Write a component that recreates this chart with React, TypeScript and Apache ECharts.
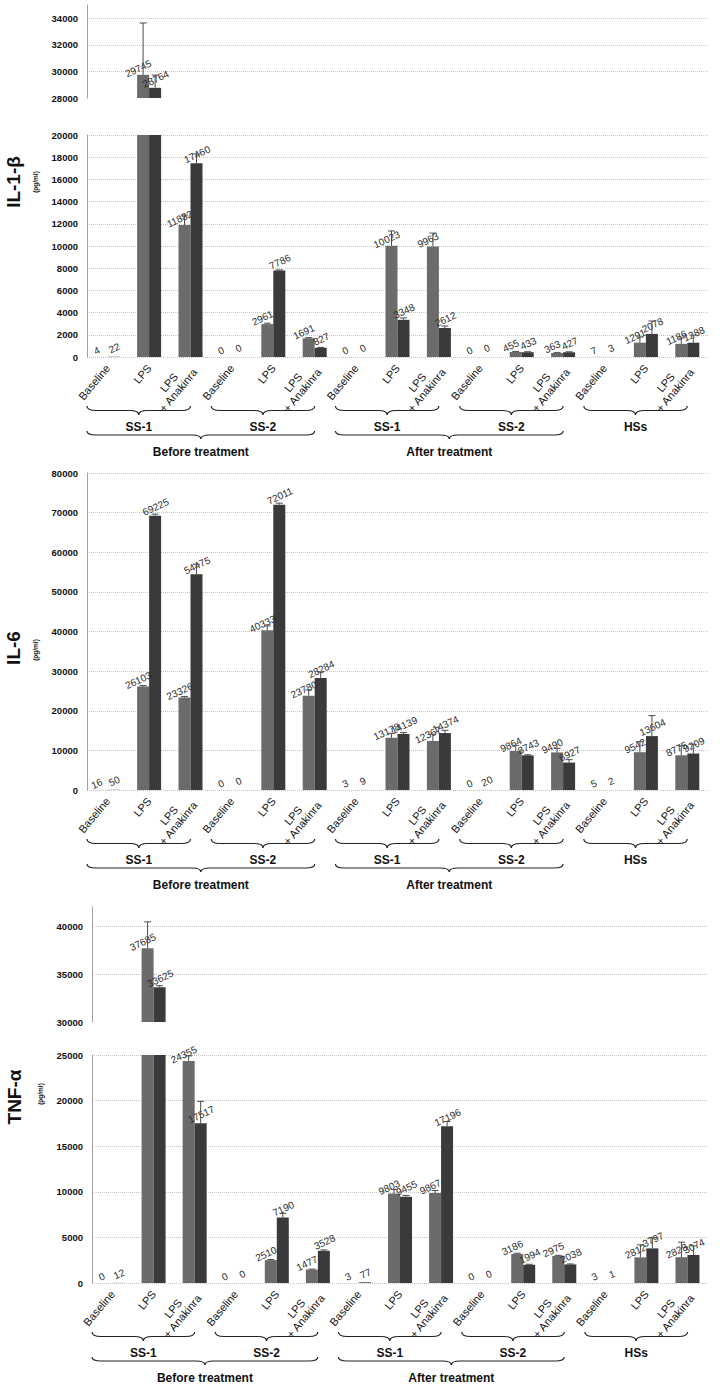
import React, { useEffect, useRef } from 'react';
import * as echarts from 'echarts';

// ---------- data ----------
const groupKeys = ['Before SS-1', 'Before SS-2', 'After SS-1', 'After SS-2', 'HSs'];
const groupLabels = ['SS-1', 'SS-2', 'SS-1', 'SS-2', 'HSs'];
const phaseLabels = ['Before treatment', 'After treatment'];
const conditions = ['Baseline', 'LPS', 'LPS\n+ Anakinra'];

// IL-1β (pg/ml)
const il1bLight = [4, 29745, 11882, 0, 2961, 1691, 0, 10023, 9963, 0, 455, 363, 7, 1291, 1186];
const il1bDark = [22, 28764, 17460, 0, 7786, 827, 0, 3348, 2612, 0, 433, 427, 3, 2078, 1288];
const il1bLightErr = [0, 3900, 900, 0, 80, 50, 0, 1330, 1200, 0, 50, 30, 0, 510, 525];
const il1bDarkErr = [0, 960, 830, 0, 60, 40, 0, 170, 180, 0, 40, 40, 0, 1165, 690];

// IL-6 (pg/ml)
const il6Light = [16, 26103, 23326, 0, 40333, 23780, 3, 13178, 12367, 0, 9864, 9490, 5, 9542, 8775];
const il6Dark = [50, 69225, 54475, 0, 72011, 28284, 9, 14139, 14374, 20, 8743, 6927, 2, 13604, 9209];
const il6LightErr = [0, 250, 250, 0, 1080, 1470, 0, 1130, 1690, 0, 1415, 1030, 0, 2660, 2340];
const il6DarkErr = [0, 400, 2500, 0, 380, 1510, 0, 340, 690, 0, 150, 730, 0, 5170, 2320];

// TNF-α (pg/ml)
const tnfLight = [0, 37685, 24355, 0, 2510, 1477, 3, 9803, 9867, 0, 3186, 2975, 3, 2812, 2828];
const tnfDark = [12, 33625, 17517, 0, 7190, 3528, 77, 9455, 17196, 0, 1994, 2038, 1, 3797, 3074];
const tnfLightErr = [0, 2760, 550, 0, 60, 50, 0, 450, 280, 0, 80, 60, 0, 1370, 1645];
const tnfDarkErr = [0, 160, 2400, 0, 450, 100, 0, 150, 510, 0, 60, 50, 0, 1185, 1000];

// axis scales
const il1bTopAxis = { min: 28000, max: 35000, interval: 2000 };
const il1bBottomAxis = { min: 0, max: 20000, interval: 2000 };
const il6Axis = { min: 0, max: 80000, interval: 10000 };
const tnfTopAxis = { min: 30000, max: 42000, interval: 5000 };
const tnfBottomAxis = { min: 0, max: 25000, interval: 5000 };

const categories = groupKeys.flatMap((g) => conditions.map((c) => g + '|' + c));

// ---------- style / layout ----------
const FONT = '"Liberation Sans", Arial, sans-serif';
const NARROW = '"Liberation Sans Narrow", "Liberation Sans", Arial, sans-serif';
const LIGHT = '#6b6b6b';
const DARK = '#3a3a3a';
const LABEL_COLOR = '#2a2a2a';
const W = 720;
const H = 1392;
const BAR_W = 12;

const panels = [
  {
    title: 'IL-1-β', titleX: 13, titleY: 182, unitX: 35, unitY: 182,
    light: il1bLight, dark: il1bDark, lightErr: il1bLightErr, darkErr: il1bDarkErr,
    left: 87, right: 12,
    segs: [
      { top: 5, height: 93, axis: il1bTopAxis, isTop: true },
      { top: 135, height: 222, axis: il1bBottomAxis, isTop: false },
    ],
  },
  {
    title: 'IL-6', titleX: 13, titleY: 648, unitX: 35, unitY: 650,
    light: il6Light, dark: il6Dark, lightErr: il6LightErr, darkErr: il6DarkErr,
    left: 87, right: 12,
    segs: [{ top: 473, height: 317, axis: il6Axis, isTop: false }],
  },
  {
    title: 'TNF-α', titleX: 14, titleY: 1097, unitX: 40, unitY: 1094,
    light: tnfLight, dark: tnfDark, lightErr: tnfLightErr, darkErr: tnfDarkErr,
    left: 92, right: 12,
    segs: [
      { top: 907, height: 115, axis: tnfTopAxis, isTop: true },
      { top: 1055, height: 228, axis: tnfBottomAxis, isTop: false },
    ],
  },
];

const Brace = echarts.graphic.extendShape({
  shape: { x1: 0, x2: 0, y: 0, h: 0 },
  buildPath(ctx: any, s: any) {
    const xm = (s.x1 + s.x2) / 2;
    const r = Math.min(9, (s.x2 - s.x1) / 6);
    const ym = s.y + s.h / 2;
    ctx.moveTo(s.x1, s.y);
    ctx.quadraticCurveTo(s.x1, ym, s.x1 + r, ym);
    ctx.lineTo(xm - r, ym);
    ctx.quadraticCurveTo(xm, ym, xm, s.y + s.h);
    ctx.quadraticCurveTo(xm, ym, xm + r, ym);
    ctx.lineTo(s.x2 - r, ym);
    ctx.quadraticCurveTo(s.x2, ym, s.x2, s.y);
  },
});
echarts.graphic.registerShape('brace', Brace);

const catLabelStyle = { fontSize: 11, lineHeight: 12, color: '#111', fontFamily: FONT };

function buildOption() {
  const grid: any[] = [];
  const xAxis: any[] = [];
  const yAxis: any[] = [];
  const series: any[] = [];
  const graphic: any[] = [];

  panels.forEach((p) => {
    p.segs.forEach((seg) => {
      const gi = grid.length;
      grid.push({ left: p.left, right: p.right, top: seg.top, height: seg.height });
      const inSeg = (v: number) => (seg.isTop ? v >= seg.axis.min : v <= seg.axis.max);
      xAxis.push({
        type: 'category',
        gridIndex: gi,
        data: categories,
        axisLine: { show: false },
        axisTick: { show: false },
        axisLabel: seg.isTop
          ? { show: false }
          : {
              interval: 0,
              rotate: 50,
              margin: 9,
              ...catLabelStyle,
              formatter: (v: string) => {
                const lines = v.split('|')[1].split('\n');
                return lines.map((l) => '{c|' + l + '}').join('\n');
              },
              rich: { c: { ...catLabelStyle, align: 'center' } },
            },
      });
      yAxis.push({
        type: 'value',
        gridIndex: gi,
        min: seg.axis.min,
        max: seg.axis.max,
        interval: seg.axis.interval,
        axisLine: { show: true, lineStyle: { color: '#a0a0a0', width: 1 } },
        axisTick: { show: false },
        axisLabel: {
          fontSize: 9.5,
          fontWeight: 'bold',
          color: '#111',
          fontFamily: FONT,
          margin: 9,
          showMaxLabel: !seg.isTop,
          formatter: (v: number) => String(v),
        },
        splitLine: {
          show: true,
          showMinLine: !seg.isTop,
          showMaxLine: !seg.isTop,
          lineStyle: { color: '#c4c4c4', type: 'dotted', width: 1 },
        },
      });
      const specs: any[] = [
        [p.light, p.lightErr, -BAR_W / 2, LIGHT, -3],
        [p.dark, p.darkErr, BAR_W / 2, DARK, 3],
      ];
      specs.forEach(([vals, errs, off, color, lblDx]) => {
        series.push({
          type: 'bar',
          xAxisIndex: gi,
          yAxisIndex: gi,
          barWidth: BAR_W,
          barGap: '0%',
          clip: true,
          itemStyle: { color },
          label: {
            show: true,
            position: 'top',
            rotate: 25,
            distance: 3,
            offset: [lblDx, 0],
            fontSize: 10,
            color: LABEL_COLOR,
            fontFamily: FONT,
          },
          data: vals.map((v: number) =>
            seg.isTop
              ? inSeg(v)
                ? v
                : '-'
              : { value: v, label: { show: inSeg(v), color: LABEL_COLOR } }
          ),
          z: 2,
        });
        series.push({
          type: 'custom',
          xAxisIndex: gi,
          yAxisIndex: gi,
          clip: true,
          z: 3,
          encode: { x: 0, y: 1 },
          data: vals
            .map((v: number, i: number) => [i, v, errs[i]])
            .filter((d: number[]) => inSeg(d[1]) && d[2] > 0),
          renderItem: (params: any, api: any) => {
            const i = api.value(0);
            const v = api.value(1);
            const e = api.value(2);
            const b = api.coord([i, v]);
            const t = api.coord([i, v + e]);
            const x = b[0] + off;
            const st = { stroke: '#4a4a4a', lineWidth: 1 };
            return {
              type: 'group',
              children: [
                { type: 'line', shape: { x1: x, y1: b[1], x2: x, y2: t[1] }, style: st },
                { type: 'line', shape: { x1: x - 3.5, y1: t[1], x2: x + 3.5, y2: t[1] }, style: st },
              ],
            };
          },
        });
      });
    });

    // titles
    graphic.push({
      type: 'text',
      x: p.titleX,
      y: p.titleY,
      rotation: Math.PI / 2,
      style: {
        text: p.title,
        fontSize: 19,
        fontWeight: 'bold',
        fontFamily: NARROW,
        fill: '#111',
        align: 'center',
        verticalAlign: 'middle',
      },
    });
    graphic.push({
      type: 'text',
      x: p.unitX,
      y: p.unitY,
      rotation: Math.PI / 2,
      style: {
        text: '(pg/ml)',
        fontSize: 6.5,
        fontWeight: 'bold',
        fontFamily: FONT,
        fill: '#111',
        align: 'center',
        verticalAlign: 'middle',
      },
    });

    // braces
    const bottom = p.segs[p.segs.length - 1];
    const y0 = bottom.top + bottom.height;
    const slot = (W - p.left - p.right) / categories.length;
    groupLabels.forEach((g, k) => {
      const x1 = p.left + 3 * slot * k;
      const x2 = x1 + 2.5 * slot;
      graphic.push({
        type: 'brace',
        shape: { x1, x2, y: y0 + 49, h: 9 },
        style: { stroke: '#222', lineWidth: 1.2, fill: 'none' },
      });
      graphic.push({
        type: 'text',
        x: (x1 + x2) / 2,
        y: y0 + 70,
        style: {
          text: g,
          fontSize: 12,
          fontWeight: 'bold',
          fontFamily: FONT,
          fill: '#111',
          align: 'center',
          verticalAlign: 'middle',
        },
      });
    });
    phaseLabels.forEach((ph, k) => {
      const x1 = p.left + 6 * slot * k;
      const x2 = x1 + 5.5 * slot;
      graphic.push({
        type: 'brace',
        shape: { x1, x2, y: y0 + 74, h: 8 },
        style: { stroke: '#222', lineWidth: 1.2, fill: 'none' },
      });
      graphic.push({
        type: 'text',
        x: (x1 + x2) / 2,
        y: y0 + 95,
        style: {
          text: ph,
          fontSize: 12,
          fontWeight: 'bold',
          fontFamily: FONT,
          fill: '#111',
          align: 'center',
          verticalAlign: 'middle',
        },
      });
    });
  });

  return {
    animation: false,
    backgroundColor: '#ffffff',
    grid,
    xAxis,
    yAxis,
    series,
    graphic,
  };
}

export default function App() {
  const ref = useRef<HTMLDivElement>(null);
  useEffect(() => {
    if (!ref.current) return;
    const chart = echarts.init(ref.current, undefined, { renderer: 'svg' });
    chart.setOption(buildOption() as any);
    return () => chart.dispose();
  }, []);
  return (
    <div
      ref={ref}
      style={{ position: 'absolute', left: 0, top: 0, width: W, height: H, background: '#fff' }}
    />
  );
}
